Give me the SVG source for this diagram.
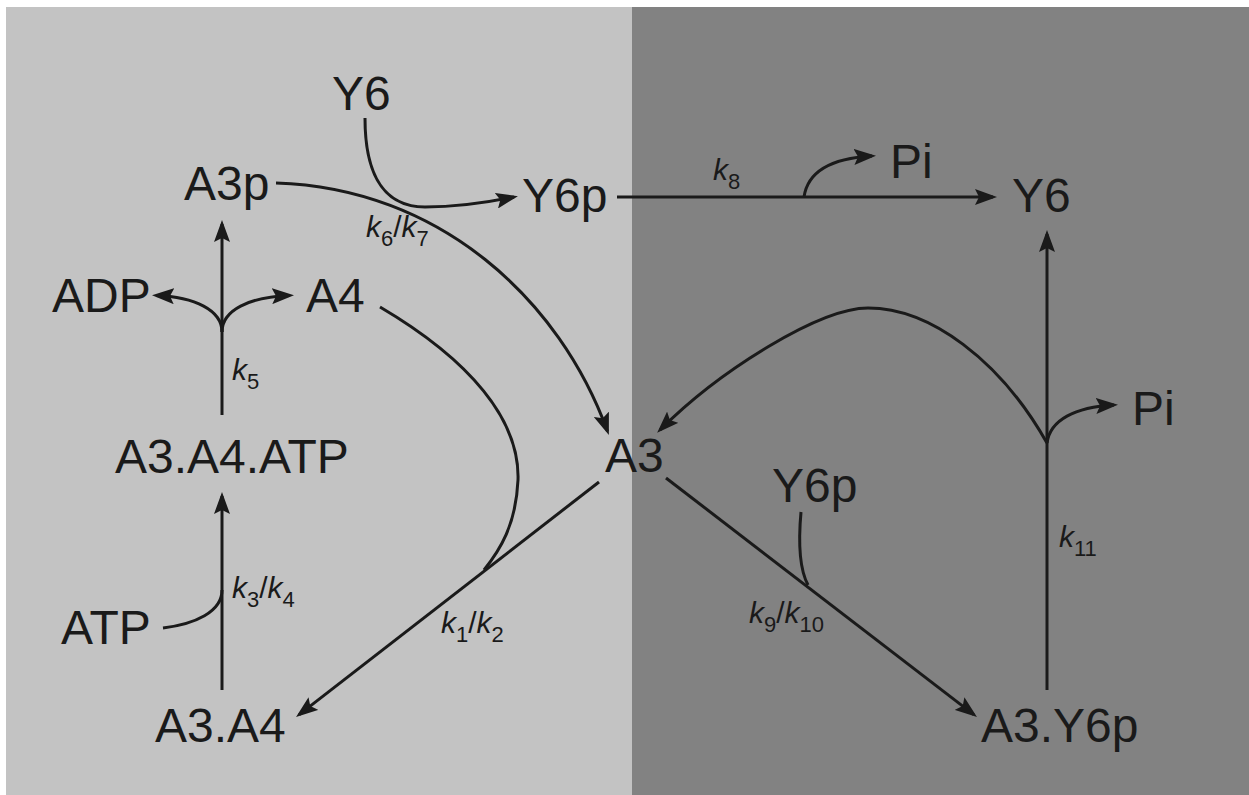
<svg xmlns="http://www.w3.org/2000/svg" width="1249" height="795" viewBox="0 0 1249 795">
<defs>
<marker id="ah" viewBox="0 0 22 16" refX="18" refY="8" markerWidth="22" markerHeight="16" markerUnits="userSpaceOnUse" orient="auto">
<path d="M0,0 L22,8 L0,16 L4,8 Z" fill="#1a1a1a"/>
</marker>
<style>
.lbl{font-family:"Liberation Sans",Arial,sans-serif;font-size:48px;fill:#1a1a1a}
.k{font-family:"Liberation Sans",Arial,sans-serif;font-size:30px;fill:#1a1a1a}
.i{font-style:italic}
.s{font-size:22px}
.c{fill:none;stroke:#1a1a1a;stroke-width:3}
.a{marker-end:url(#ah)}
</style>
</defs>
<rect x="0" y="0" width="1249" height="795" fill="#ffffff"/>
<rect x="6" y="7" width="626" height="788" fill="#c3c3c3"/>
<rect x="632" y="7" width="617" height="788" fill="#828282"/>

<g id="connectors">
<path class="c a" d="M222,690 L222,496"/>
<path class="c" d="M163,628 C195,624 222,612 222,590"/>
<path class="c a" d="M222,415 L222,224"/>
<path class="c a" d="M222,332 C222,310 195,297 156,295.5"/>
<path class="c a" d="M222,332 C222,310 249,297 290,295.5"/>
<path class="c a" d="M599,482 L299.2,714.6"/>
<path class="c" d="M380,307 C470,360 520,420 518,480 C516,525 500,550 484,570"/>
<path class="c a" d="M276,183 C440,188 560,300 607.5,431.3"/>
<path class="c a" d="M365,118 C365,165 378,207 425,207 C462,207 490,202 514,197"/>
<path class="c a" d="M617,197 L993,197"/>
<path class="c a" d="M804,197 C808,170 835,158 872,156"/>
<path class="c a" d="M1047,690 L1047,234"/>
<path class="c a" d="M1047,443 C1050,420 1075,407 1114,405"/>
<path class="c a" d="M1047,443 C1000,360 930,308 868,308 C820,308 720,370 660,430"/>
<path class="c a" d="M666,478 L973.8,714.6"/>
<path class="c" d="M801,512 C798,545 800,570 808,585"/>
</g>

<g id="node-Y6-top"><text class="lbl" x="332" y="110">Y6</text></g>
<g id="node-A3p"><text class="lbl" x="184" y="200">A3p</text></g>
<g id="node-Y6p-top"><text class="lbl" x="522" y="212">Y6p</text></g>
<g id="node-Pi-top"><text class="lbl" x="890" y="178">Pi</text></g>
<g id="node-Y6-right"><text class="lbl" x="1012" y="212">Y6</text></g>
<g id="node-ADP"><text class="lbl" x="52" y="312">ADP</text></g>
<g id="node-A4"><text class="lbl" x="306" y="312">A4</text></g>
<g id="node-A3A4ATP"><text class="lbl" x="115" y="473">A3.A4.ATP</text></g>
<g id="node-A3"><text class="lbl" x="605" y="472">A3</text></g>
<g id="node-Pi-right"><text class="lbl" x="1132" y="425">Pi</text></g>
<g id="node-Y6p-mid"><text class="lbl" x="772" y="502">Y6p</text></g>
<g id="node-ATP"><text class="lbl" x="61" y="644">ATP</text></g>
<g id="node-A3A4"><text class="lbl" x="155" y="742">A3.A4</text></g>
<g id="node-A3Y6p"><text class="lbl" x="981" y="742">A3.Y6p</text></g>

<g id="rate-labels">
<text class="k" x="366" y="237"><tspan class="i">k</tspan><tspan class="s" dy="9">6</tspan><tspan dy="-9">/</tspan><tspan class="i">k</tspan><tspan class="s" dy="9">7</tspan></text>
<text class="k" x="713" y="180"><tspan class="i">k</tspan><tspan class="s" dy="9">8</tspan></text>
<text class="k" x="232" y="380"><tspan class="i">k</tspan><tspan class="s" dy="9">5</tspan></text>
<text class="k" x="232" y="598"><tspan class="i">k</tspan><tspan class="s" dy="9">3</tspan><tspan dy="-9">/</tspan><tspan class="i">k</tspan><tspan class="s" dy="9">4</tspan></text>
<text class="k" x="441" y="633"><tspan class="i">k</tspan><tspan class="s" dy="9">1</tspan><tspan dy="-9">/</tspan><tspan class="i">k</tspan><tspan class="s" dy="9">2</tspan></text>
<text class="k" x="749" y="623"><tspan class="i">k</tspan><tspan class="s" dy="9">9</tspan><tspan dy="-9">/</tspan><tspan class="i">k</tspan><tspan class="s" dy="9">10</tspan></text>
<text class="k" x="1059" y="547"><tspan class="i">k</tspan><tspan class="s" dy="9">11</tspan></text>
</g>
</svg>
